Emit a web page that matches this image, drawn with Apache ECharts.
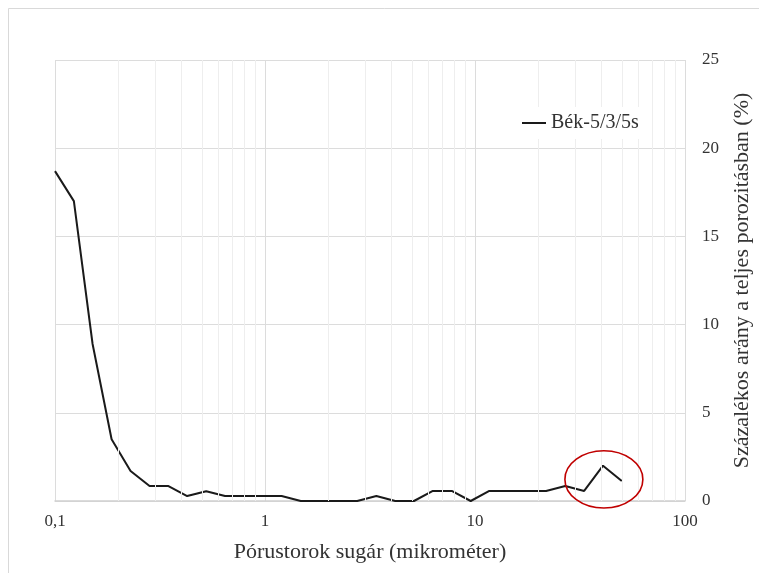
<!DOCTYPE html>
<html>
<head>
<meta charset="utf-8">
<script src="https://cdn.jsdelivr.net/npm/echarts@6/dist/echarts.min.js"></script>
<style>
  html, body { margin: 0; padding: 0; background: #ffffff; }
  #chart { width: 759px; height: 573px; }
</style>
</head>
<body>
<div id="chart"></div>
<script>
// Pore throat radius classes (micrometre), logarithmic spacing
const poreRadius = [0.1, 0.123, 0.151, 0.186, 0.229, 0.282, 0.347, 0.426, 0.525, 0.645,
  0.794, 0.977, 1.2, 1.48, 1.82, 2.24, 2.75, 3.39, 4.17, 5.12,
  6.3, 7.75, 9.54, 11.7, 14.4, 17.8, 21.8, 26.9, 33.1, 40.7, 50];
// Share of total porosity in each class (%)
const porositySharePct = [18.7, 17.0, 8.9, 3.5, 1.7, 0.85, 0.85, 0.28, 0.55, 0.28,
  0.28, 0.28, 0.28, 0, 0, 0, 0, 0.28, 0, 0,
  0.57, 0.57, 0, 0.57, 0.57, 0.57, 0.57, 0.85, 0.57, 2.0, 1.13];
const seriesName = 'Bék-5/3/5s';

// Axis ticks and labels
const xMajorTicks = [0.1, 1, 10, 100];
const xTickLabels = ['0,1', '1', '10', '100'];
const xMinorTicks = [0.2, 0.3, 0.4, 0.5, 0.6, 0.7, 0.8, 0.9,
  2, 3, 4, 5, 6, 7, 8, 9,
  20, 30, 40, 50, 60, 70, 80, 90];
const yTicks = [0, 5, 10, 15, 20, 25];

// Highlighted region around the coarse pore peak (data units)
const highlightX = [26.8, 63];
const highlightY = [-0.4, 2.85];

const FONT = '"Liberation Serif", "Times New Roman", serif';
const TEXT = '#333333';

const chart = echarts.init(document.getElementById('chart'), null, { renderer: 'canvas' });

chart.setOption({
  animation: false,
  backgroundColor: '#ffffff',
  grid: { left: 55, right: 74, top: 60, bottom: 72, containLabel: false, outerBoundsMode: 'none' },
  legend: {
    data: [{ name: seriesName, icon: 'rect' }],
    left: 512,
    top: 107,
    padding: [6, 10],
    itemWidth: 24,
    itemHeight: 2,
    itemGap: 5,
    z: 20,
    backgroundColor: '#ffffff',
    itemStyle: { color: '#1a1a1a', borderWidth: 0 },
    textStyle: { fontFamily: FONT, fontSize: 20, color: TEXT }
  },
  xAxis: {
    type: 'log',
    logBase: 10,
    min: xMajorTicks[0],
    max: xMajorTicks[xMajorTicks.length - 1],
    name: 'Pórustorok sugár (mikrométer)',
    nameLocation: 'middle',
    nameGap: 40,
    nameTextStyle: { fontFamily: FONT, fontSize: 22, color: TEXT },
    axisLine: { show: true, lineStyle: { color: '#d0d0d0', width: 1.5 } },
    axisTick: { show: false },
    axisLabel: {
      margin: 12,
      fontFamily: FONT,
      fontSize: 17,
      color: TEXT,
      formatter: function (v) {
        const i = xMajorTicks.findIndex(t => Math.abs(Math.log10(t) - Math.log10(v)) < 1e-6);
        return i >= 0 ? xTickLabels[i] : '';
      }
    },
    splitLine: { show: true, lineStyle: { color: '#dcdcdc', width: 1 } }
  },
  yAxis: {
    type: 'value',
    position: 'right',
    min: yTicks[0],
    max: yTicks[yTicks.length - 1],
    interval: yTicks[1] - yTicks[0],
    name: 'Százalékos arány a teljes porozitásban (%)',
    nameLocation: 'middle',
    nameGap: 46,
    nameRotate: 90,
    nameTextStyle: { fontFamily: FONT, fontSize: 22, color: TEXT },
    axisLine: { show: false },
    axisTick: { show: false },
    axisLabel: { margin: 17, fontFamily: FONT, fontSize: 17, color: TEXT },
    splitLine: { show: true, lineStyle: { color: '#dcdcdc', width: 1 } }
  },
  series: [
    {
      // minor vertical grid lines of the log axis
      type: 'line',
      data: [],
      z: 0,
      silent: true,
      markLine: {
        silent: true,
        symbol: 'none',
        animation: false,
        label: { show: false },
        lineStyle: { color: '#eeeeee', width: 1, type: 'solid' },
        emphasis: { disabled: true },
        data: xMinorTicks.map(v => ({ xAxis: v }))
      }
    },
    {
      name: seriesName,
      type: 'line',
      z: 3,
      data: poreRadius.map((x, i) => [x, porositySharePct[i]]),
      symbol: 'none',
      showSymbol: false,
      smooth: false,
      lineStyle: { color: '#1a1a1a', width: 2 },
      itemStyle: { color: '#1a1a1a' }
    }
  ]
});

// Outer frame and the red highlight ellipse
const p1 = chart.convertToPixel({ gridIndex: 0 }, [highlightX[0], highlightY[1]]);
const p2 = chart.convertToPixel({ gridIndex: 0 }, [highlightX[1], highlightY[0]]);
chart.setOption({
  graphic: [
    {
      type: 'rect',
      silent: true,
      shape: { x: 8.5, y: 8.5, width: 780, height: 620 },
      style: { fill: 'none', stroke: '#d9d9d9', lineWidth: 1 },
      z: 0
    },
    {
      type: 'ellipse',
      silent: true,
      shape: {
        cx: (p1[0] + p2[0]) / 2,
        cy: (p1[1] + p2[1]) / 2,
        rx: Math.abs(p2[0] - p1[0]) / 2,
        ry: Math.abs(p2[1] - p1[1]) / 2
      },
      style: { fill: 'none', stroke: '#c00000', lineWidth: 1.6 },
      z: 10
    }
  ]
});
</script>
</body>
</html>
